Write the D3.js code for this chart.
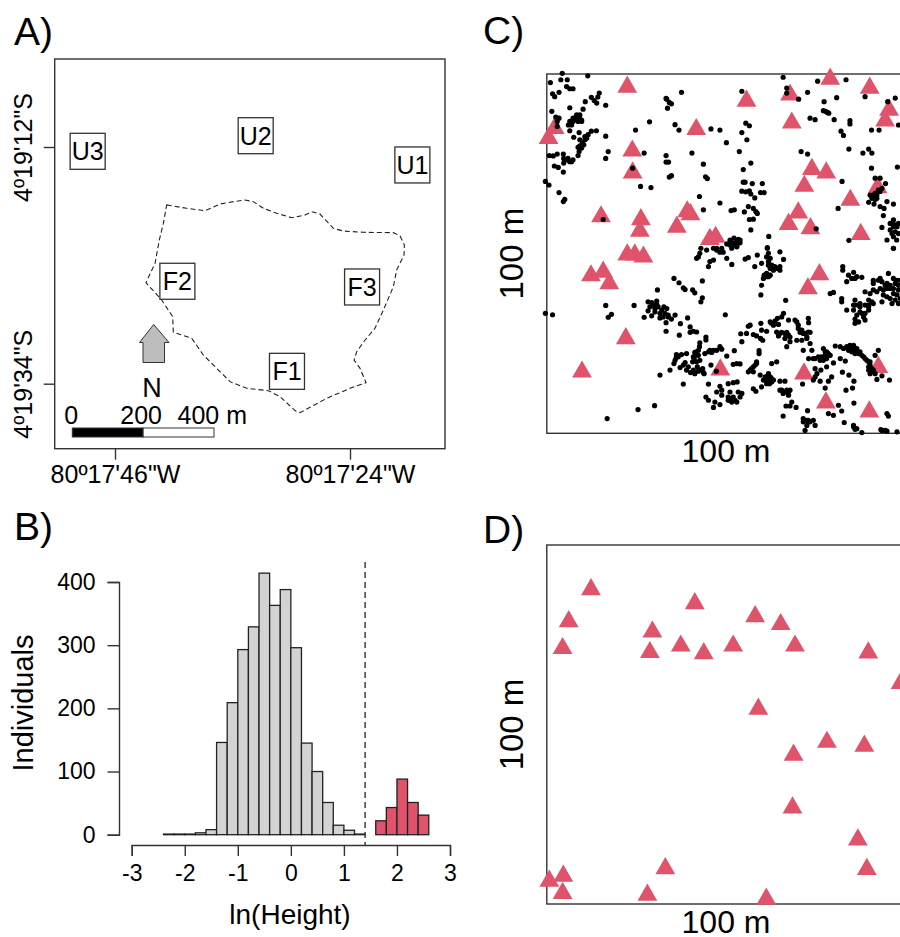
<!DOCTYPE html>
<html>
<head>
<meta charset="utf-8">
<script src="https://cdn.jsdelivr.net/npm/d3@7"></script>
<style>
  body { margin: 0; background: #fff; }
  text { font-family: "Liberation Sans", Arial, sans-serif; fill: #000; }
</style>
</head>
<body>
<div id="chart"></div>
<script>
// panel A: site labels and forest boundary, in arc seconds (80deg17'xx"W, 4deg19'yy"S)
var siteNames = ["U3", "U2", "U1", "F2", "F3", "F1"];
var siteLon = [48.56, 32.83, 18.16, 40.16, 22.87, 29.90];
var siteLat = [12.40, 10.95, 13.67, 24.48, 25.01, 32.85];
var lonTicks = [46, 24];
var latTicks = [12, 34];
var boundary = [[41.16,17.39],[39.29,17.70],[37.57,17.92],[36.17,17.30],[34.92,17.08],[33.83,16.93],[33.05,17.08],[32.11,17.70],[30.86,18.16],[29.46,18.57],[28.21,18.32],[27.59,18.01],[26.81,18.23],[25.56,19.56],[24.62,19.81],[22.75,19.93],[19.94,19.96],[19.31,20.27],[18.91,21.11],[18.94,22.04],[19.63,23.43],[19.94,24.98],[20.87,27.15],[21.66,28.85],[22.59,29.94],[23.37,31.02],[23.62,31.80],[23.06,32.57],[22.50,33.90],[24.00,34.43],[26.18,35.36],[28.68,36.69],[29.15,36.50],[30.55,35.20],[31.64,34.65],[33.67,34.43],[35.23,33.81],[36.48,32.57],[37.73,31.33],[38.82,29.78],[40.54,29.22],[40.60,27.77],[41.63,26.22],[43.10,24.61],[42.25,22.81],[41.85,20.64],[41.47,19.09]];

// panel B: histogram of ln(height), 0.2 wide bins
var smallBinStart = [-2.4,-2.2,-2,-1.8,-1.6,-1.4,-1.2,-1,-0.8,-0.6,-0.4,-0.2,0,0.2,0.4,0.6,0.8,1,1.2];
var smallCounts = [1,1,1,3,8,146,209,293,329,414,363,388,296,145,100,51,15,7,1];
var largeBinStart = [1.6,1.8,2,2.2,2.4];
var largeCounts = [22,43,88,51,31];
var heightCut = 1.4;

// panel C: small stems (dots) and large stems (triangles), metres
var smallStems = [[4.3,100.2],[1.0,97.6],[3.9,98.4],[5.7,98.4],[5.5,96.5],[6.4,95.9],[7.3,95.9],[1.6,94.5],[2.2,93.7],[3.4,94.9],[11.4,99.5],[14.6,94.7],[14.2,93.6],[12.4,93.5],[13.2,92.6],[13.9,91.9],[10.7,92.3],[16.4,91.3],[10.1,90.2],[6.4,90.6],[1.4,89.6],[2.5,88.0],[3.4,87.7],[2.9,86.8],[2.9,85.4],[8.3,88.6],[7.8,87.7],[9.0,88.0],[9.7,86.8],[6.4,86.8],[7.3,86.8],[6.0,85.8],[6.9,85.8],[8.7,86.8],[6.4,84.2],[9.0,83.7],[7.5,82.4],[9.2,81.7],[10.6,81.7],[11.5,83.1],[11.1,82.1],[12.4,84.1],[13.8,84.2],[16.4,82.7],[10.3,80.3],[9.2,80.0],[9.7,79.4],[9.0,78.4],[8.7,77.3],[17.1,78.4],[16.4,76.5],[0.7,77.3],[1.8,77.2],[2.9,77.7],[4.6,77.7],[4.7,76.5],[5.5,76.1],[6.4,75.6],[7.3,76.1],[4.7,75.2],[2.1,74.4],[3.2,74.0],[4.6,72.7],[-0.4,70.1],[0.6,69.1],[3.4,67.0],[5.0,65.1],[4.6,64.5],[15.7,59.5],[24.7,84.4],[28.6,86.7],[27.1,78.0],[23.9,73.8],[26.1,68.7],[29.0,68.4],[37.5,94.9],[33.2,93.2],[34.1,92.1],[34.7,91.7],[33.6,90.5],[33.4,93.0],[35.7,85.9],[36.8,84.4],[45.7,84.7],[48.2,84.4],[50.0,80.9],[40.4,78.0],[33.2,77.3],[33.2,75.5],[33.9,75.5],[43.6,74.9],[34.7,71.7],[34.1,71.3],[44.2,71.4],[44.7,70.9],[42.5,65.9],[43.6,62.2],[48.2,64.1],[54.3,95.2],[55.4,86.3],[56.4,85.6],[54.3,83.7],[55.7,81.7],[53.6,78.4],[56.8,75.2],[54.7,73.4],[54.7,69.9],[55.2,69.9],[57.2,69.5],[60.0,69.5],[54.3,67.4],[55.4,67.2],[56.4,67.5],[56.8,66.6],[57.9,65.5],[59.5,67.0],[60.5,67.0],[56.1,63.1],[57.5,62.6],[58.2,61.7],[58.6,61.2],[51.3,62.0],[52.2,62.2],[55.0,61.6],[56.4,59.5],[57.5,59.6],[56.8,56.6],[61.8,54.8],[61.4,51.7],[65.8,99.1],[66.8,96.1],[66.8,94.7],[70.1,93.0],[72.6,94.9],[75.4,98.0],[83.3,98.4],[77.2,92.3],[80.7,93.4],[77.0,89.8],[77.6,89.6],[78.1,89.3],[78.5,89.1],[73.3,87.7],[74.7,87.3],[80.0,87.3],[84.4,87.0],[84.4,86.1],[81.9,84.1],[82.6,82.9],[90.4,84.4],[92.5,84.4],[88.6,93.7],[94.9,92.3],[97.0,93.3],[97.9,85.8],[84.1,79.1],[88.0,78.0],[89.6,79.1],[90.5,78.0],[70.8,78.4],[72.6,77.7],[90.4,73.8],[97.6,74.1],[82.2,70.1],[91.4,71.0],[92.8,71.0],[94.3,69.5],[90.9,66.3],[90.0,66.3],[91.9,66.3],[92.8,67.3],[90.5,65.4],[91.4,65.1],[93.3,68.2],[89.6,64.3],[91.1,63.8],[92.8,63.1],[93.9,62.6],[94.7,64.5],[96.5,63.8],[81.1,62.6],[93.7,60.6],[93.3,57.3],[75.0,56.9],[84.1,53.7],[95.6,58.4],[96.5,59.4],[97.0,58.0],[97.9,58.4],[96.1,55.6],[97.0,56.1],[97.9,55.6],[96.5,54.7],[97.4,53.8],[94.7,53.8],[96.5,51.5],[51.0,53.8],[52.1,54.3],[53.3,54.0],[52.4,52.9],[52.9,52.2],[50.1,52.7],[51.0,52.4],[53.8,53.8],[42.9,51.5],[46.4,51.5],[47.3,51.5],[48.7,51.5],
[41.7,48.7],[42.6,50.1],[42.2,49.1],[44.5,51.0],[45.4,47.8],[45.0,46.4],[46.4,48.2],[47.3,51.0],[48.2,50.4],[49.1,50.4],[50.1,48.7],[51.5,47.0],[52.9,51.9],[55.2,48.5],[56.1,48.9],[58.6,49.6],[57.9,46.4],[59.8,47.3],[61.4,51.5],[61.7,50.1],[61.2,49.1],[62.2,48.7],[61.7,47.8],[62.6,46.8],[63.5,46.4],[64.9,50.5],[65.9,48.4],[64.5,45.9],[63.1,45.4],[61.2,44.5],[60.5,44.0],[60.3,43.1],[61.7,43.6],[59.8,41.2],[59.6,38.5],[66.5,37.0],[35.4,43.1],[36.8,41.9],[38.0,40.5],[38.5,40.0],[40.6,39.9],[41.2,39.1],[43.3,42.4],[43.3,37.7],[42.9,36.6],[30.8,39.9],[16.4,35.6],[24.3,35.6],[18.0,33.1],[17.1,32.3],[-0.4,33.4],[1.6,33.0],[28.2,36.6],[29.2,36.4],[30.6,36.8],[28.7,35.2],[31.0,35.2],[28.2,34.1],[32.6,35.2],[33.4,34.7],[30.1,33.8],[31.5,33.4],[32.9,33.4],[33.8,32.9],[29.2,32.7],[27.1,32.3],[31.5,32.1],[35.7,32.9],[34.7,31.8],[33.2,30.8],[33.2,28.4],[39.2,32.1],[37.2,30.5],[36.9,27.3],[39.9,29.6],[40.8,28.4],[41.7,28.2],[39.9,28.1],[44.3,26.8],[44.3,26.0],[49.7,33.0],[42.6,25.2],[42.2,23.1],[41.2,22.5],[42.2,21.7],[40.8,21.3],[41.7,19.9],[42.6,20.3],[36.1,21.9],[37.5,21.9],[38.9,22.2],[35.7,20.3],[35.4,19.4],[38.5,19.7],[39.4,18.5],[37.1,18.3],[34.3,17.6],[31.5,16.2],[40.0,16.9],[41.2,16.6],[42.6,17.6],[43.6,16.9],[45.7,19.0],[45.0,22.7],[46.4,23.1],[48.2,24.1],[47.3,23.1],[48.7,23.4],[50.1,21.5],[52.2,23.0],[47.2,17.3],[51.9,19.2],[52.9,19.4],[53.8,19.3],[38.0,13.7],[45.0,13.7],[50.5,13.8],[51.9,14.1],[53.0,14.3],[48.2,13.1],[48.7,12.0],[47.3,11.5],[48.7,10.6],[44.3,10.1],[45.0,9.2],[46.8,8.7],[48.2,8.0],[46.4,7.2],[50.5,10.1],[51.5,9.7],[52.4,9.2],[53.3,11.5],[54.3,11.1],[53.8,10.1],[51.0,11.5],[30.0,7.7],[25.4,6.6],[16.8,4.1],
[54.0,27.7],[55.6,27.8],[56.1,29.8],[57.5,27.5],[56.6,30.1],[58.4,27.1],[59.5,26.4],[60.1,25.9],[59.6,30.6],[59.8,28.7],[61.2,28.4],[54.3,25.5],[59.1,23.0],[59.1,22.2],[62.6,30.6],[63.5,31.2],[64.2,32.0],[65.9,33.4],[67.3,31.5],[63.1,30.1],[64.5,30.3],[65.4,32.4],[64.0,28.2],[65.4,28.1],[66.8,28.1],[67.7,26.8],[64.5,27.1],[66.3,26.4],[67.7,25.5],[66.8,24.1],[69.6,31.0],[70.0,30.1],[71.0,28.7],[72.8,32.0],[72.9,30.8],[71.4,27.8],[72.8,28.2],[69.6,25.9],[71.0,25.9],[72.4,26.4],[73.3,25.0],[71.4,23.1],[73.8,23.1],[64.0,19.9],[62.6,19.4],[58.4,19.4],[57.5,18.5],[56.6,17.6],[57.5,17.1],[59.4,16.2],[60.8,15.7],[61.7,16.6],[62.6,15.2],[62.2,14.3],[61.2,13.8],[60.3,14.8],[59.8,12.9],[57.5,12.4],[58.2,11.7],[64.9,14.5],[66.3,14.5],[65.4,12.0],[66.8,12.0],[67.7,12.0],[65.8,11.1],[67.3,10.6],[68.2,8.7],[66.6,7.6],[69.4,7.2],[67.7,7.6],[65.8,4.8],[72.6,6.3],[71.4,4.1],[72.8,3.6],[74.2,3.6],[74.7,2.2],[72.4,2.2],[71.9,0.8],
[72.9,20.8],[74.7,20.8],[76.1,20.3],[77.5,21.7],[77.0,23.6],[77.9,22.7],[78.9,21.7],[80.3,24.3],[81.7,24.1],[82.6,23.6],[83.5,24.1],[84.4,23.6],[85.4,24.5],[86.3,23.6],[84.9,22.7],[85.8,22.2],[86.8,22.2],[87.7,21.7],[88.6,20.8],[89.6,19.9],[90.0,19.0],[91.4,21.7],[92.3,23.1],[90.9,17.6],[89.6,17.6],[90.0,16.6],[90.9,17.1],[79.8,19.6],[77.9,18.5],[74.7,18.0],[81.7,20.8],[83.1,20.1],[76.3,17.6],[75.2,16.6],[74.7,15.7],[74.2,14.8],[76.1,14.5],[78.4,14.5],[79.3,15.7],[82.3,17.0],[84.1,16.2],[85.5,14.5],[85.1,12.6],[83.3,12.0],[77.5,12.6],[71.2,13.7],[91.9,15.0],[93.3,16.0],[95.4,14.8],[81.2,7.8],[82.1,6.2],[78.4,5.5],[79.8,5.0],[85.5,8.4],[82.8,3.0],[85.4,2.2],[86.3,1.3],[87.7,0.2],[93.0,1.0],[94.7,0.6],[94.7,5.5],[95.1,4.8],[97.5,0.4],
[82.4,46.4],[82.4,45.4],[85.4,44.8],[84.0,44.0],[84.9,43.1],[86.3,43.6],[87.7,43.4],[83.5,42.2],[85.8,43.1],[95.1,44.5],[96.5,43.1],[92.3,42.6],[93.3,42.2],[94.7,41.7],[90.9,41.7],[97.0,41.7],[97.9,41.2],[95.6,40.3],[93.7,39.9],[91.9,39.4],[90.0,38.9],[88.6,39.4],[96.5,38.9],[94.7,38.0],[97.5,38.5],[93.3,36.6],[96.1,36.1],[90.9,36.1],[89.6,35.7],[87.2,36.1],[85.8,35.7],[85.4,34.3],[83.5,34.3],[82.1,37.5],[82.1,36.6],[79.8,39.2],[78.9,38.9],[87.2,33.8],[89.6,34.3],[88.2,32.4],[86.8,31.0],[85.8,30.6],[88.6,31.5],[96.5,51.5],[97.9,36.1],
[41.7,22.7],[41.0,20.8],[41.5,21.7],[42.5,24.1],[41.9,18.5],[40.6,19.9],[42.2,17.3],[43.4,18.0],[45.9,22.5],[44.0,22.2],[45.4,23.1],[36.6,21.3],[36.0,21.0],[38.0,19.0],[38.9,17.6],[40.8,17.6],[43.8,16.6],[29.6,35.7],[30.1,34.7],[30.6,35.9],[32.0,34.3],[33.8,32.4],[32.4,32.4],[61.2,15.7],[62.2,15.7],[61.7,14.8],[60.8,15.2],[62.6,14.3],[61.2,14.8],[62.0,13.8],[63.1,14.8],[58.4,19.9],[57.0,18.0],[58.0,19.0],[56.1,17.1],[51.9,10.1],[51.0,9.2],[52.9,8.7],[51.5,8.7],[50.5,9.2],[66.3,11.5],[64.9,12.0],[67.3,11.5],[62.2,31.0],[64.9,27.8],[66.3,27.8],[67.3,27.3],[70.0,29.2],[70.5,28.1],[71.9,27.8],[72.4,26.8],[73.3,28.1],[69.1,31.5],[74.2,20.8],[75.6,21.3],[76.5,21.3],[77.5,22.7],[78.4,22.2],[77.9,20.8],[77.0,20.3],[84.4,24.5],[84.9,24.1],[85.8,23.6],[84.0,23.1],[85.4,23.1],[86.3,22.7],[87.2,22.7],[88.2,21.3],[89.1,20.3],[90.0,19.9],[90.5,18.0],[91.4,16.6],[89.6,18.5],[90.9,42.6],[92.8,43.1],[94.2,41.2],[95.6,41.2],[94.7,40.3],[96.5,40.3],[92.8,40.3],[90.9,39.9],[93.7,38.5],[95.6,37.5],[97.0,37.1],[98.4,37.5],[97.9,39.9],[87.2,35.2],[88.6,35.7],[90.5,36.6],[89.6,37.1],[86.3,32.9],[85.8,31.8],[87.7,33.4],[88.6,33.4],[89.6,35.2],[85.8,37.1],[85.4,35.7],[86.8,35.7],[98.4,42.6],[97.5,42.6],[61.7,46.8],[62.2,45.9],[63.1,46.4],[64.0,45.9],[64.9,45.4],[61.0,43.6],[62.2,44.0],[64.9,46.4],[72.4,3.6],[73.3,3.2],[71.4,3.2],[85.4,1.8],[85.8,1.1],[93.3,0.8],[94.2,0.8],
[7.3,87.7],[8.5,87.2],[9.2,88.6],[9.7,87.2],[10.6,82.6],[9.9,80.7],[8.7,79.6],[5.9,76.5],[6.9,75.6],[5.0,76.1],[91.4,66.8],[92.3,67.7],[91.9,65.4],[96.1,58.4],[97.5,57.5],[95.6,56.6],[96.5,57.5],[51.5,53.0],[52.9,53.3],[53.8,53.0],[51.9,52.4],[51.5,51.5]];

var largeStemsC = [[22.4,96.4],[78.9,98.6],[89.9,96.1],[67.7,94.2],[55.6,92.5],[68.2,86.4],[41.6,84.6],[2.2,84.9],[95.3,90.0],[94.2,87.0],[0.5,82.1],[23.8,78.6],[23.9,72.5],[73.8,73.5],[77.8,72.5],[71.7,68.8],[92.1,68.4],[84.5,64.9],[39.1,61.7],[40.0,60.9],[15.1,60.3],[26.2,59.5],[25.9,56.3],[36.2,57.4],[70.0,61.4],[67.3,58.2],[73.4,57.0],[87.4,55.4],[45.4,54.0],[47.0,54.6],[22.4,49.7],[24.5,49.7],[26.9,49.1],[12.3,43.9],[15.7,44.9],[17.4,41.7],[75.9,44.2],[72.7,40.3],[22.0,26.4],[9.8,17.1],[48.3,17.7],[71.6,16.6],[92.3,18.4],[77.7,8.5],[89.8,6.0]];

// panel D: large stems in the unburned plot, metres
var largeStemsD = [[12.3,87.6],[6.1,78.7],[4.4,71.2],[29.4,75.8],[28.7,70.1],[37.3,71.9],[43.7,69.8],[41.2,83.7],[51.9,71.9],[58.0,80.1],[65.1,77.9],[69.1,71.9],[89.5,70.0],[98.5,61.5],[58.9,54.3],[68.7,41.5],[78.0,45.1],[88.4,44.0],[68.4,26.8],[86.6,17.9],[89.1,9.7],[33.0,9.9],[4.6,7.8],[0.7,6.4],[4.4,3.0],[28.0,2.5],[61.1,1.4]];

var dark = "#333";
var red = "#DF536B";

var svg = d3.select("#chart").append("svg")
  .attr("width", 900)
  .attr("height", 937)
  .style("display", "block");

function panelLetter(txt, x, y) {
  svg.append("text").attr("x", x).attr("y", y)
    .attr("font-size", 39).text(txt);
}
panelLetter("A)", 14, 45);
panelLetter("B)", 14, 540);
panelLetter("C)", 483, 44);
panelLetter("D)", 483, 543);

function frame(x0, y0, x1, y1) {
  svg.append("rect")
    .attr("x", x0).attr("y", y0)
    .attr("width", x1 - x0).attr("height", y1 - y0)
    .attr("fill", "none").attr("stroke", dark).attr("stroke-width", 1.4);
}

function styleAxis(g) {
  g.selectAll("path, line").attr("stroke", dark).attr("stroke-width", 1.4);
}

// ---------- panel A ----------
var lonScale = d3.scaleLinear().domain([46, 24]).range([115, 350]);
var latScale = d3.scaleLinear().domain([12, 34]).range([147, 383.7]);

frame(54.7, 59, 445, 448.7);

var lonAxis = svg.append("g")
  .attr("transform", "translate(0,448.7)")
  .call(d3.axisBottom(lonScale).tickValues(lonTicks).tickSize(11)
    .tickFormat(d => "80º17'" + d + "\"W"));
lonAxis.select(".domain").remove();
styleAxis(lonAxis);
lonAxis.selectAll("text").attr("font-size", 25).attr("font-family", null).attr("y", 34.5).attr("dy", 0);

var latAxis = svg.append("g")
  .attr("transform", "translate(54.7,0)")
  .call(d3.axisLeft(latScale).tickValues(latTicks).tickSize(11)
    .tickFormat(d => "4º19'" + d + "\"S"));
latAxis.select(".domain").remove();
styleAxis(latAxis);
latAxis.selectAll("text")
  .attr("font-size", 25)
  .attr("text-anchor", "middle")
  .attr("x", 0).attr("y", 0).attr("dy", 0)
  .attr("transform", "translate(-23,0) rotate(-90)");

svg.append("path")
  .datum(boundary)
  .attr("d", d3.line().x(d => lonScale(d[0])).y(d => latScale(d[1])).curve(d3.curveLinearClosed))
  .attr("fill", "none")
  .attr("stroke", "#222")
  .attr("stroke-width", 1.1)
  .attr("stroke-dasharray", "5,3");

var sites = svg.append("g").selectAll("g")
  .data(siteNames)
  .enter()
  .append("g")
  .attr("transform", (d, i) => `translate(${lonScale(siteLon[i])},${latScale(siteLat[i])})`);
sites.append("rect")
  .attr("x", -17.5).attr("y", -18)
  .attr("width", 35).attr("height", 36)
  .attr("fill", "#fff").attr("stroke", dark).attr("stroke-width", 1.3);
sites.append("text")
  .attr("text-anchor", "middle")
  .attr("y", 9)
  .attr("font-size", 25)
  .text(d => d);

// north arrow
svg.append("path")
  .attr("d", "M153.7,324.5 L139.5,342.5 L143,342.5 L143,362.5 L164.5,362.5 L164.5,342.5 L169,342.5 Z")
  .attr("fill", "#bdbdbd").attr("stroke", dark).attr("stroke-width", 1);
svg.append("text").attr("x", 152).attr("y", 397)
  .attr("text-anchor", "middle").attr("font-size", 27).text("N");

// scale bar
var barScale = d3.scaleLinear().domain([0, 400]).range([72.3, 214]);
svg.append("rect").attr("x", barScale(0)).attr("y", 428)
  .attr("width", barScale(200) - barScale(0)).attr("height", 9)
  .attr("fill", "#000").attr("stroke", dark);
svg.append("rect").attr("x", barScale(200)).attr("y", 428)
  .attr("width", barScale(400) - barScale(200)).attr("height", 9)
  .attr("fill", "#fff").attr("stroke", dark);
svg.append("text").attr("x", barScale(0) - 1).attr("y", 424)
  .attr("text-anchor", "middle").attr("font-size", 25).text("0");
svg.append("text").attr("x", barScale(200) - 2).attr("y", 424)
  .attr("text-anchor", "middle").attr("font-size", 25).text("200");
svg.append("text").attr("x", 177.5).attr("y", 424)
  .attr("font-size", 25).text("400 m");

// ---------- panel B ----------
var xHist = d3.scaleLinear().domain([-3, 3]).range([131.7, 450]);
var yHist = d3.scaleLinear().domain([0, 400]).range([834.7, 582]);
var binWidth = 0.2;

var xHistAxis = svg.append("g")
  .attr("transform", "translate(0,845)")
  .call(d3.axisBottom(xHist).tickValues([-3, -2, -1, 0, 1, 2, 3]).tickSize(11).tickFormat(d => d));
styleAxis(xHistAxis);
xHistAxis.selectAll("text").attr("font-size", 23).attr("font-family", null).attr("y", 36).attr("dy", 0);

var yHistAxis = svg.append("g")
  .attr("transform", "translate(119,0)")
  .call(d3.axisLeft(yHist).tickValues([0, 100, 200, 300, 400]).tickSize(11.5).tickPadding(12).tickFormat(d => d));
styleAxis(yHistAxis);
yHistAxis.selectAll("text").attr("font-size", 23).attr("font-family", null);

function drawBars(starts, counts, fill, stroke) {
  svg.append("g").selectAll("rect")
    .data(starts)
    .enter()
    .append("rect")
    .attr("x", d => xHist(d))
    .attr("width", xHist(binWidth) - xHist(0))
    .attr("y", (d, i) => yHist(counts[i]))
    .attr("height", (d, i) => yHist(0) - yHist(counts[i]))
    .attr("fill", fill)
    .attr("stroke", stroke)
    .attr("stroke-width", 1.3);
}
drawBars(smallBinStart, smallCounts, "#D3D3D3", "#222");
drawBars(largeBinStart, largeCounts, red, "#222");

svg.append("line")
  .attr("x1", xHist(heightCut)).attr("x2", xHist(heightCut))
  .attr("y1", 562).attr("y2", 845)
  .attr("stroke", dark).attr("stroke-width", 1.4).attr("stroke-dasharray", "6,4");

svg.append("text")
  .attr("transform", "translate(33,703) rotate(-90)")
  .attr("text-anchor", "middle").attr("font-size", 29).text("Individuals");
svg.append("text")
  .attr("x", 290).attr("y", 924)
  .attr("text-anchor", "middle").attr("font-size", 28).text("ln(Height)");

// ---------- panels C and D ----------
var xPlot = d3.scaleLinear().domain([0, 100]).range([546.8, 906]);
var triangle = d3.symbol().type(d3.symbolTriangle).size(170);

function plotLabels(yTop, yBottom) {
  svg.append("text")
    .attr("transform", `translate(523,${(yTop + yBottom) / 2}) rotate(-90)`)
    .attr("text-anchor", "middle").attr("font-size", 33).text("100 m");
  svg.append("text")
    .attr("x", 726).attr("y", yBottom + 29)
    .attr("text-anchor", "middle").attr("font-size", 32).text("100 m");
}

function drawTriangles(points, yScale) {
  svg.append("g").selectAll("path")
    .data(points)
    .enter()
    .append("path")
    .attr("d", triangle)
    .attr("transform", d => `translate(${xPlot(d[0])},${yScale(d[1])})`)
    .attr("fill", red);
}

var yPlotC = d3.scaleLinear().domain([0, 100]).range([433.3, 74]);
frame(546.8, 74, 906, 433.3);
drawTriangles(largeStemsC, yPlotC);
svg.append("g").selectAll("circle")
  .data(smallStems)
  .enter()
  .append("circle")
  .attr("cx", d => xPlot(d[0]))
  .attr("cy", d => yPlotC(d[1]))
  .attr("r", 2.6)
  .attr("fill", "#000");
plotLabels(74, 433.3);

var yPlotD = d3.scaleLinear().domain([0, 100]).range([904, 545]);
frame(546.8, 545, 906, 904);
drawTriangles(largeStemsD, yPlotD);
plotLabels(545, 904);
</script>
</body>
</html>
